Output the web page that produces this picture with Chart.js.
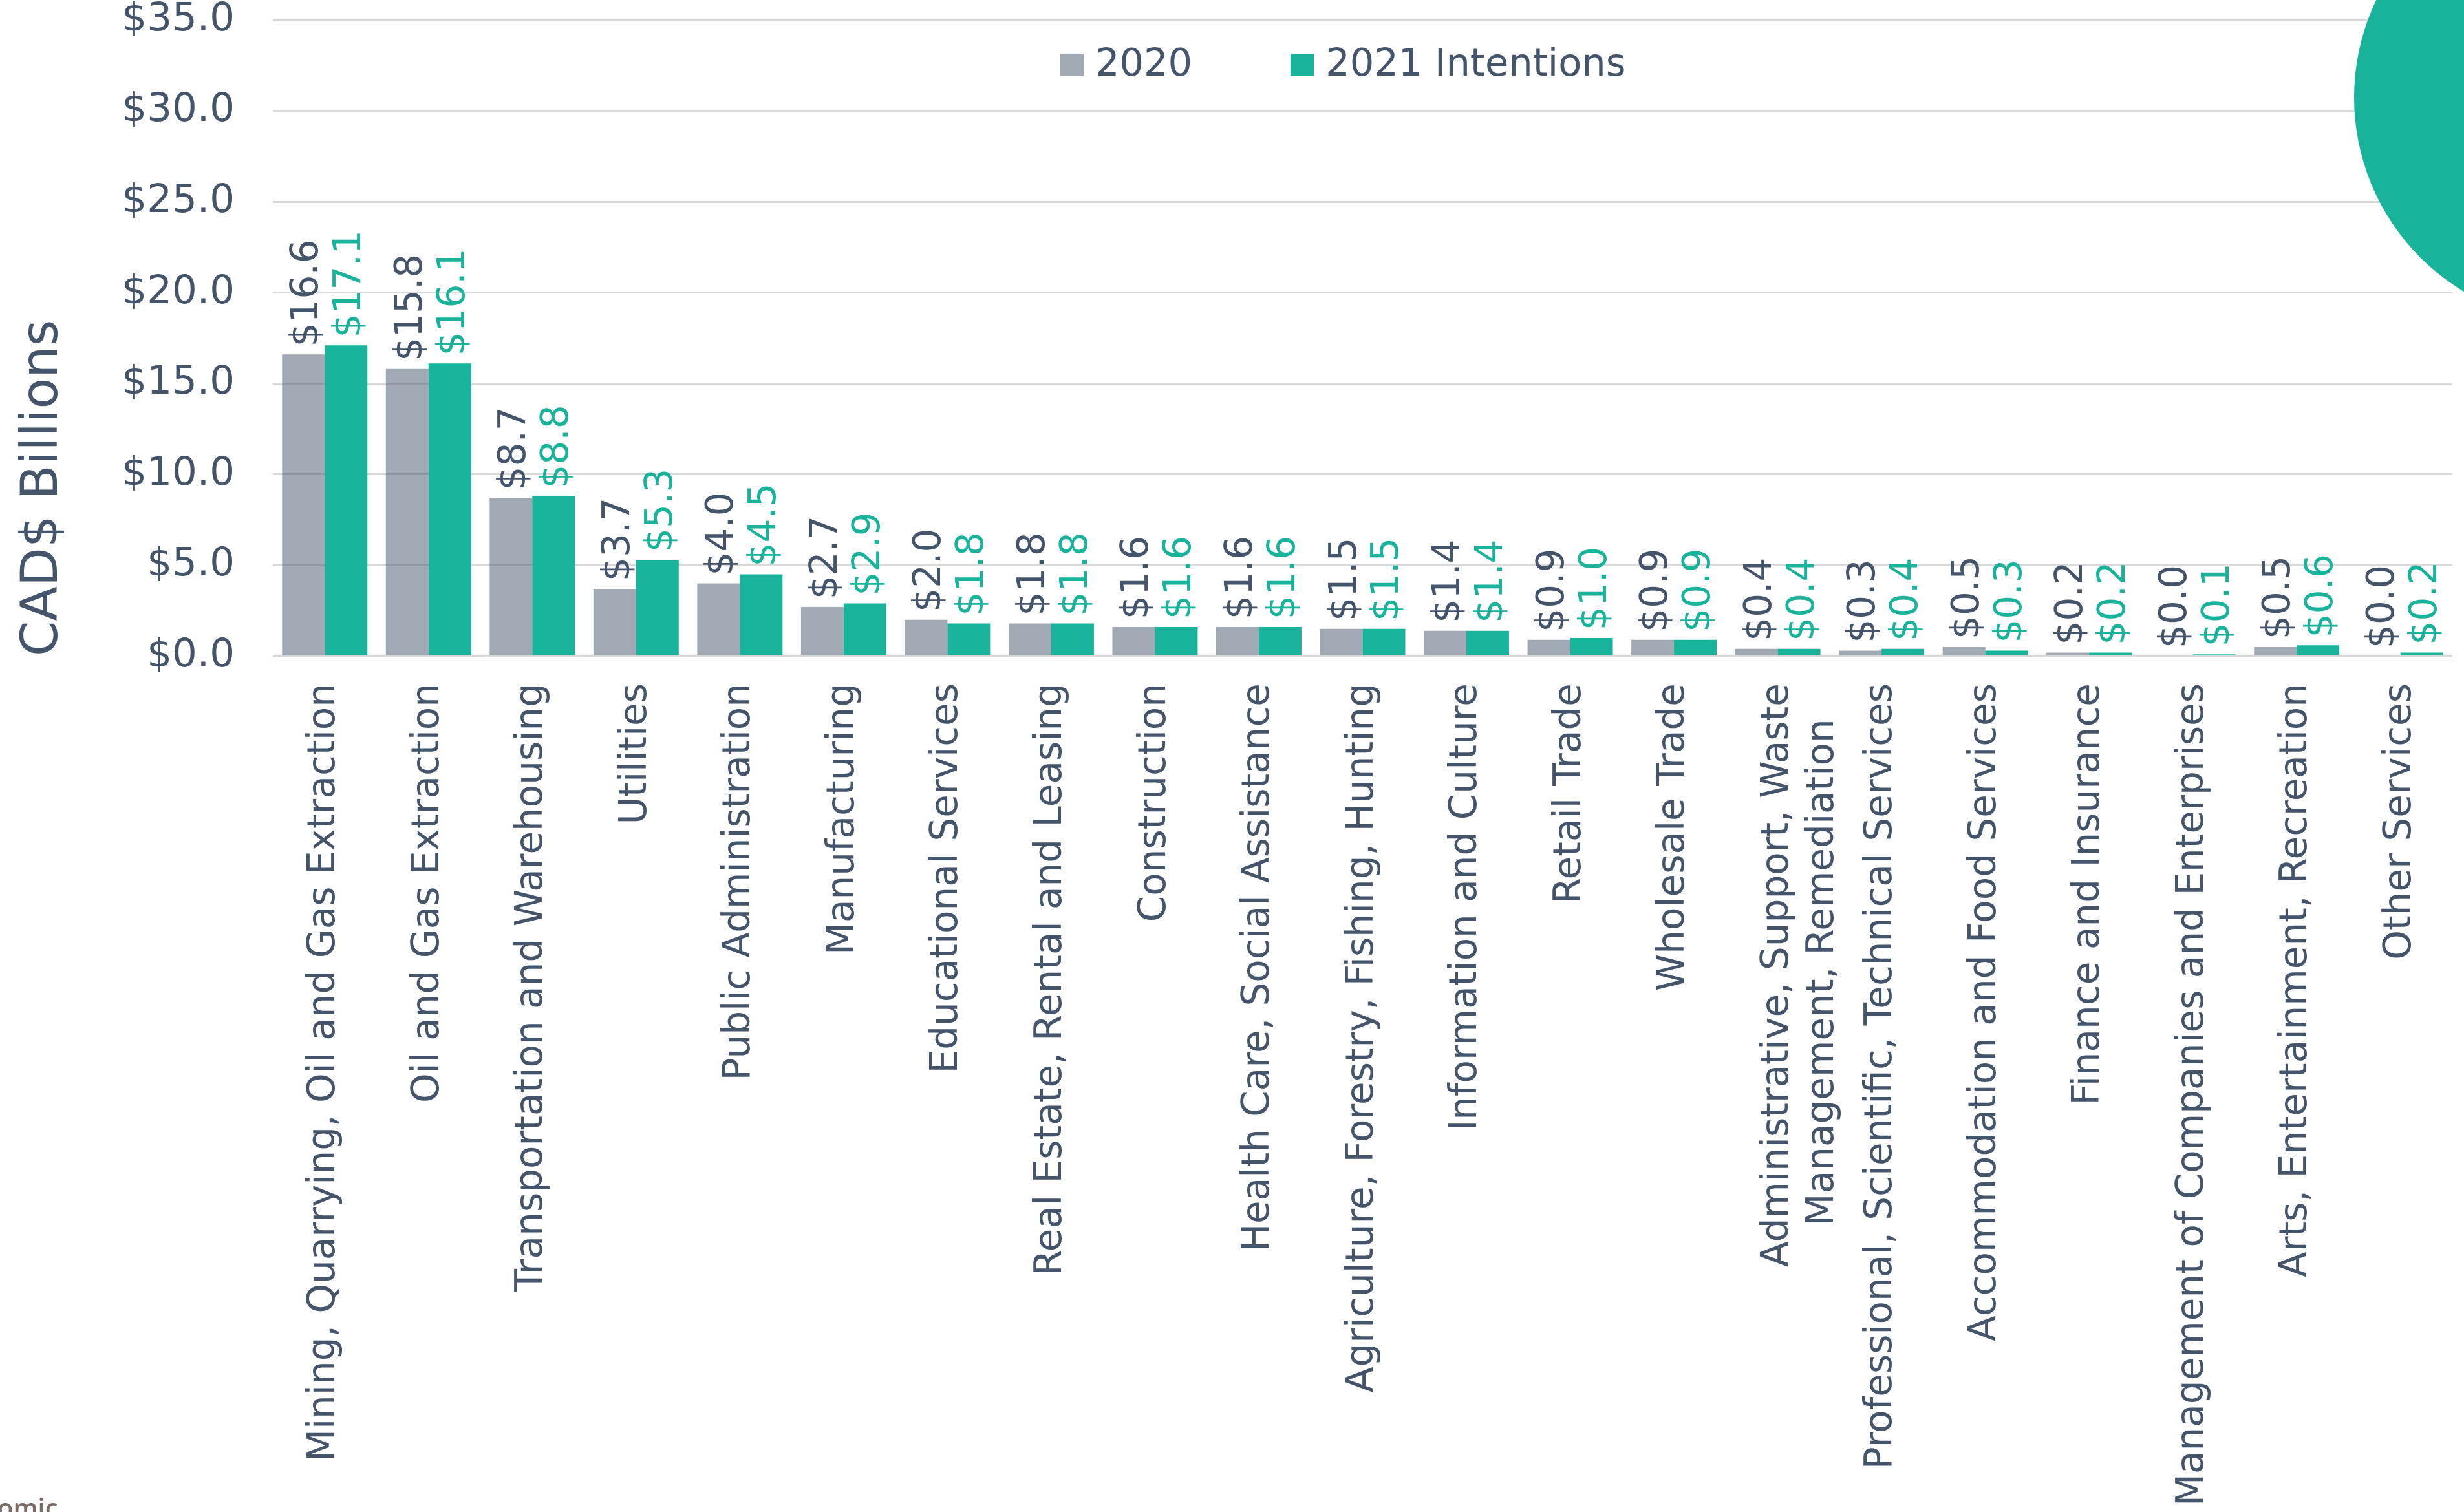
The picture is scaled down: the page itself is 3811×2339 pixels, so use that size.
<!DOCTYPE html>
<html>
<head>
<meta charset="utf-8">
<title>Capital expenditure by industry</title>
<script src="https://cdn.jsdelivr.net/npm/chart.js@4.4.1/dist/chart.umd.min.js"></script>
<style>
  html, body { margin: 0; padding: 0; background: #fff; overflow: hidden; }
  #wrap { position: relative; width: 3811px; height: 2339px; overflow: hidden; }
  #graph { position: absolute; left: 0; top: 0; }
  #blob { position: absolute; left: 3641px; top: -199px; width: 700px; height: 700px; border-radius: 50%; background: #19b39b; }
  #note { position: absolute; left: -4px; top: 2312px; font: 600 40px "Open Sans"; line-height: 40px; color: #7b6c68; }
</style>
</head>
<body>
<div id="wrap">
  <canvas id="graph" width="3811" height="2339"></canvas>
  <div id="blob"></div>
  <div id="note">omic</div>
</div>
<script>
// industries, in the order of the chart
// (trailing spaces keep the short second line centred under the first one)
var industries = [
  "Mining, Quarrying, Oil and Gas Extraction",
  "Oil and Gas Extraction",
  "Transportation and Warehousing",
  "Utilities",
  "Public Administration",
  "Manufacturing",
  "Educational Services",
  "Real Estate, Rental and Leasing",
  "Construction",
  "Health Care, Social Assistance",
  "Agriculture, Forestry, Fishing, Hunting",
  "Information and Culture",
  "Retail Trade",
  "Wholesale Trade",
  ["Administrative, Support, Waste", "Management, Remediation   "],
  "Professional, Scientific, Technical Services",
  "Accommodation and Food Services",
  "Finance and Insurance",
  "Management of Companies and Enterprises",
  "Arts, Entertainment, Recreation",
  "Other Services"
];

var seriesNames = ["2020", "2021 Intentions"];

var capex2020 = [16.6, 15.8, 8.7, 3.7, 4.0, 2.7, 2.0, 1.8, 1.6, 1.6, 1.5, 1.4, 0.9, 0.9, 0.4, 0.3, 0.5, 0.2, 0.0, 0.5, 0.0];
var capex2021 = [17.1, 16.1, 8.8, 5.3, 4.5, 2.9, 1.8, 1.8, 1.6, 1.6, 1.5, 1.4, 1.0, 0.9, 0.4, 0.4, 0.3, 0.2, 0.1, 0.6, 0.2];

var yMin = 0;
var yMax = 35;
var yStep = 5;
var yTitle = "CAD$ Billions";

var slate = "#44546a";
var green = "#19b39b";
var grey = "rgba(68, 84, 106, 0.5)";
var fontName = '"DejaVu Sans", Verdana, sans-serif';

function money(v) {
  return "$" + Number(v).toFixed(1);
}

// value labels, turned upright, just above each bar
var barLabels = {
  id: "barLabels",
  afterDatasetsDraw: function (chart) {
    var ctx = chart.ctx;
    chart.data.datasets.forEach(function (ds, i) {
      var meta = chart.getDatasetMeta(i);
      ctx.save();
      ctx.font = "58px " + fontName;
      ctx.fillStyle = ds.labelColor;
      ctx.textAlign = "left";
      ctx.textBaseline = "alphabetic";
      meta.data.forEach(function (bar, j) {
        ctx.save();
        ctx.translate(bar.x, bar.y - 12);
        ctx.rotate(-Math.PI / 2);
        ctx.fillText(money(ds.data[j]), 0, 22);
        ctx.restore();
      });
      ctx.restore();
    });
  }
};

// legend sitting inside the plot, between the top two grid lines
var insideLegend = {
  id: "insideLegend",
  afterDraw: function (chart) {
    var ctx = chart.ctx;
    var x = 1640;
    var y = 100;
    ctx.save();
    ctx.font = "59px " + fontName;
    ctx.textBaseline = "middle";
    ctx.textAlign = "left";
    chart.data.datasets.forEach(function (ds) {
      ctx.fillStyle = ds.backgroundColor;
      ctx.fillRect(x, y - 17, 36, 34);
      ctx.fillStyle = slate;
      ctx.fillText(ds.label, x + 54, y + 2);
      x += 54 + ctx.measureText(ds.label).width + 152;
    });
    ctx.restore();
  }
};

var ctx = document.getElementById("graph").getContext("2d");

var data = {
  labels: industries,
  datasets: [
    {
      label: seriesNames[0],
      data: capex2020,
      backgroundColor: grey,
      labelColor: slate
    },
    {
      label: seriesNames[1],
      data: capex2021,
      backgroundColor: green,
      labelColor: green
    }
  ]
};

var options = {
  responsive: false,
  animation: false,
  devicePixelRatio: 1,
  layout: { padding: { top: 31, right: 18, left: 0, bottom: 0 } },
  datasets: {
    bar: { categoryPercentage: 0.822, barPercentage: 1.0 }
  },
  plugins: {
    legend: { display: false },
    tooltip: { enabled: false }
  },
  scales: {
    x: {
      grid: { display: false, drawTicks: false },
      border: { display: false },
      ticks: {
        color: slate,
        font: { family: fontName, size: 58, lineHeight: 1.22 },
        padding: 42,
        minRotation: 90,
        maxRotation: 90,
        autoSkip: false
      },
      afterFit: function (scale) {
        scale.height = 2339 - 1015;
        scale.paddingLeft = 0;
        scale.paddingRight = 0;
      }
    },
    y: {
      min: yMin,
      max: yMax,
      grid: { color: "#d9d9d9", lineWidth: 3, drawTicks: false },
      border: { display: false },
      ticks: {
        stepSize: yStep,
        color: slate,
        font: { family: fontName, size: 61, lineHeight: 1.0 },
        padding: 59,
        callback: function (v) { return money(v); }
      },
      title: {
        display: true,
        text: yTitle,
        align: "start",
        color: slate,
        font: { family: fontName, size: 78, lineHeight: 1.2 },
        padding: { top: 21, bottom: 0 }
      },
      afterFit: function (scale) {
        scale.width = 422;
        scale.paddingTop = 0;
        scale.paddingBottom = 0;
      }
    }
  }
};

var config = {
  type: "bar",
  data: data,
  options: options,
  plugins: [barLabels, insideLegend]
};

var graph = new Chart(ctx, config);
</script>
</body>
</html>
